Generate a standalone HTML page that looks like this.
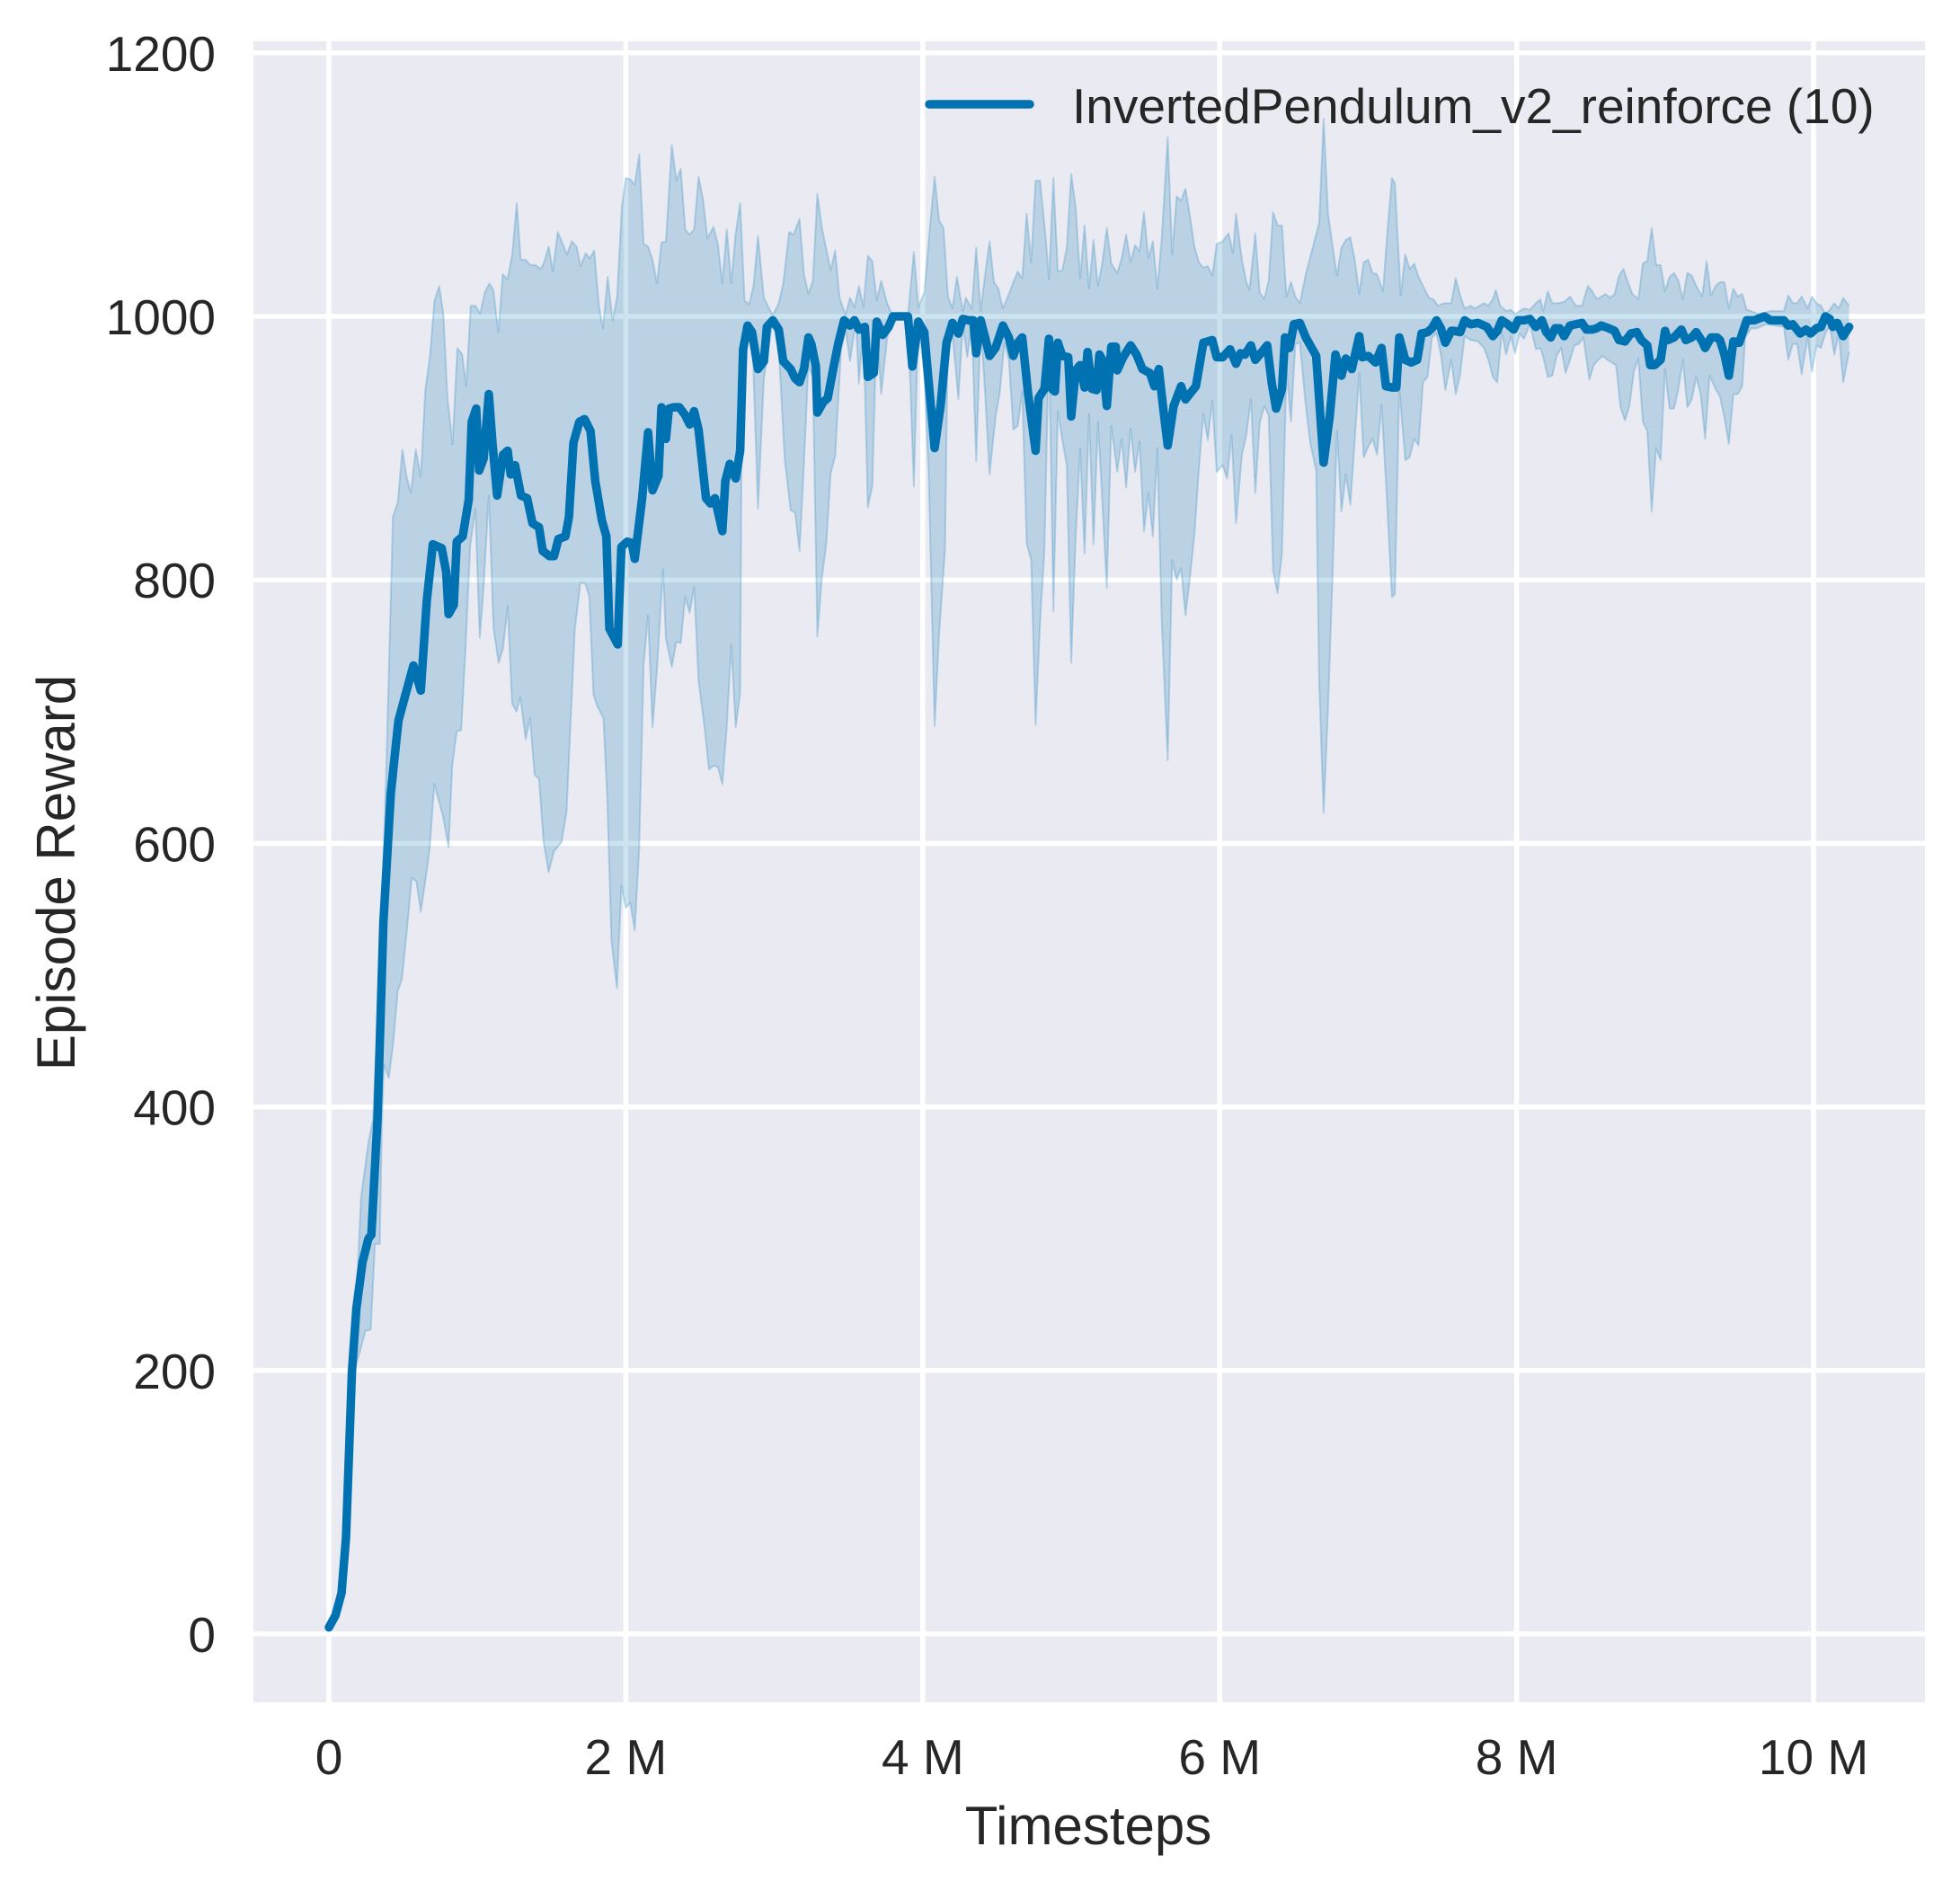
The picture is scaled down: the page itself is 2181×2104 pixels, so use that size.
<!DOCTYPE html>
<html>
<head>
<meta charset="utf-8">
<style>
html,body{margin:0;padding:0;background:#ffffff;}
svg{display:block;}
text{font-family:"Liberation Sans", Arial, sans-serif;fill:#262626;}
</style>
</head>
<body>
<svg xmlns="http://www.w3.org/2000/svg" width="2181" height="2104" viewBox="0 0 2181 2104">
<rect x="0" y="0" width="2181" height="2104" fill="#ffffff"/>
<rect x="282" y="46" width="1860" height="1848" fill="#EAEAF2"/>

<!-- grid -->
<g stroke="#ffffff" stroke-width="5.5" fill="none">
  <line x1="282" y1="1818" x2="2142" y2="1818"/>
  <line x1="282" y1="1524.8" x2="2142" y2="1524.8"/>
  <line x1="282" y1="1231.6" x2="2142" y2="1231.6"/>
  <line x1="282" y1="938.4" x2="2142" y2="938.4"/>
  <line x1="282" y1="645.2" x2="2142" y2="645.2"/>
  <line x1="282" y1="352" x2="2142" y2="352"/>
  <line x1="282" y1="58.8" x2="2142" y2="58.8"/>
  <line x1="366" y1="46" x2="366" y2="1894"/>
  <line x1="696.4" y1="46" x2="696.4" y2="1894"/>
  <line x1="1026.8" y1="46" x2="1026.8" y2="1894"/>
  <line x1="1357.2" y1="46" x2="1357.2" y2="1894"/>
  <line x1="1687.6" y1="46" x2="1687.6" y2="1894"/>
  <line x1="2018" y1="46" x2="2018" y2="1894"/>
</g>

<defs>
<clipPath id="plotclip"><rect x="282" y="46" width="1860" height="1848"/></clipPath>
<clipPath id="abovelower" clipPathUnits="userSpaceOnUse">
<path d="M0,2000 L0,3 0.044,10 0.085,24 0.115,59 0.145,129 0.175,202 0.206,213 0.246,230 0.282,231 0.31,296 0.343,296 0.357,387 0.371,432 0.403,422 0.431,446 0.464,488 0.492,497 0.528,537 0.558,574 0.589,571 0.619,548 0.649,571 0.679,596 0.71,645 0.77,620 0.806,597 0.831,659 0.861,685 0.891,686 0.921,749 0.952,826 0.986,854 1.016,756 1.042,794 1.077,864 1.109,763 1.143,737 1.173,748 1.204,780 1.234,706 1.264,700 1.29,711 1.325,679 1.355,695 1.385,652 1.415,649 1.446,601 1.48,578 1.516,594 1.567,601 1.601,624 1.627,690 1.657,763 1.694,798 1.728,797 1.754,787 1.782,713 1.808,704 1.849,695 1.875,634 1.903,526 1.94,490 1.97,568 2,551 2.03,555 2.06,534 2.09,596 2.12,736 2.15,773 2.18,688 2.21,732 2.25,808 2.27,755 2.31,734 2.34,753 2.37,752 2.4,787 2.43,775 2.46,795 2.49,723 2.53,688 2.56,656 2.59,659 2.62,658 2.65,645 2.68,688 2.71,751 2.74,688 2.77,714 2.78,897 2.82,986 2.85,992 2.89,854 2.93,953 2.99,997 3.03,975 3.07,892 3.11,853 3.14,851 3.17,822 3.2,888 3.23,963 3.26,953 3.29,757 3.32,801 3.35,827 3.38,881 3.41,894 3.45,975 3.48,990 3.51,966 3.55,997 3.57,949 3.6,994 3.63,855 3.66,871 3.69,992 3.72,941 3.76,983 3.8,1000 3.9,1000 3.94,871 3.97,997 4.01,955 4.04,880 4.08,689 4.11,758 4.15,823 4.17,989 4.2,987 4.24,937 4.27,994 4.3,969 4.33,995 4.36,890 4.39,995 4.42,941 4.45,880 4.49,923 4.52,943 4.55,980 4.58,967 4.61,914 4.64,917 4.67,943 4.7,828 4.73,815 4.76,690 4.79,767 4.82,823 4.85,980 4.88,776 4.91,928 4.94,906 4.97,887 5,737 5.03,832 5.06,900 5.09,820 5.12,926 5.15,827 5.18,920 5.21,858 5.24,794 5.27,917 5.31,882 5.34,907 5.37,870 5.4,915 5.43,882 5.46,905 5.49,837 5.52,866 5.55,833 5.58,900 5.61,767 5.65,663 5.68,815 5.71,800 5.74,809 5.77,773 5.8,802 5.83,834 5.86,884 5.89,926 5.92,906 5.95,936 5.98,882 6.02,887 6.05,877 6.08,910 6.11,843 6.15,895 6.18,910 6.21,937 6.24,866 6.27,919 6.3,932 6.33,925 6.36,807 6.39,790 6.42,821 6.45,960 6.48,920 6.51,979 6.54,980 6.58,932 6.61,904 6.65,883 6.67,723 6.7,623 6.73,702 6.76,802 6.79,913 6.82,852 6.85,880 6.88,857 6.91,906 6.94,957 6.97,893 7,901 7.03,907 7.06,895 7.09,933 7.13,854 7.16,787 7.18,789 7.21,945 7.25,891 7.28,893 7.31,907 7.34,902 7.37,950 7.4,954 7.43,984 7.46,987 7.49,971 7.52,944 7.56,967 7.59,941 7.62,956 7.65,985 7.69,982 7.74,981 7.78,976 7.81,967 7.84,954 7.87,950 7.9,988 7.93,971 7.96,985 7.99,972 8.02,987 8.05,983 8.09,994 8.13,975 8.16,976 8.18,969 8.21,954 8.24,955 8.27,970 8.3,976 8.33,957 8.36,967 8.39,978 8.42,979 8.45,984 8.49,952 8.52,963 8.55,967 8.58,970 8.61,967 8.67,963 8.7,931 8.73,921 8.76,932 8.79,958 8.82,968 8.85,920 8.88,913 8.91,852 8.94,900 8.97,891 9,960 9.03,930 9.06,930 9.09,945 9.12,967 9.15,931 9.18,937 9.21,954 9.24,941 9.27,907 9.3,955 9.34,945 9.37,939 9.4,923 9.43,903 9.46,941 9.49,941 9.52,947 9.54,984 9.58,991 9.62,991 9.68,994 9.74,993 9.8,992 9.83,967 9.86,979 9.89,979 9.92,956 9.96,984 9.99,958 10.02,978 10.05,976 10.08,987 10.11,993 10.14,971 10.17,987 10.2,950 10.24,973 L10.24,2000 Z"/>
</clipPath>
</defs>

<g clip-path="url(#plotclip)">
<g transform="matrix(165.2 0 0 -1.466 366 1818)">
  <path clip-path="url(#abovelower)" fill="#0072B2" fill-opacity="0.2" stroke="none"
  d="M0,-100 L0,5 0.044,21 0.085,45 0.125,108 0.165,206 0.216,331 0.266,373 0.296,390 0.327,463 0.357,554 0.387,659 0.431,848 0.464,859 0.495,899 0.524,878 0.552,866 0.585,899 0.619,878 0.649,944 0.681,970 0.711,1012 0.743,1023 0.771,1002 0.798,939 0.833,903 0.865,976 0.898,971 0.925,947 0.955,1008 0.987,1008 1.019,1002 1.049,1018 1.081,1025 1.108,1020 1.141,988 1.171,1032 1.203,1028 1.235,1047 1.265,1086 1.292,1043 1.325,1043 1.357,1039 1.392,1039 1.424,1036 1.446,1040 1.481,1053 1.508,1034 1.541,1064 1.568,1057 1.603,1047 1.636,1057 1.668,1053 1.695,1038 1.73,1048 1.757,1044 1.787,1050 1.819,1008 1.846,991 1.878,1030 1.911,997 1.941,1015 1.973,1083 2,1105 2.03,1104 2.06,1100 2.09,1123 2.12,1055 2.15,1053 2.18,1043 2.21,1025 2.24,1056 2.27,1057 2.31,1130 2.34,1103 2.37,1112 2.4,1066 2.43,1062 2.46,1066 2.49,1106 2.52,1089 2.55,1059 2.59,1068 2.62,1055 2.65,1025 2.68,1066 2.71,1025 2.74,1063 2.77,1086 2.8,1012 2.83,1009 2.86,1023 2.89,1061 2.93,1014 2.96,1007 2.99,1001 3.03,1010 3.06,1025 3.1,1064 3.13,1062 3.17,1074 3.2,1032 3.23,1017 3.26,1027 3.29,1093 3.32,1068 3.35,1051 3.38,1035 3.41,1050 3.44,1014 3.48,1001 3.51,1014 3.54,1007 3.57,1023 3.6,1007 3.63,1046 3.66,1042 3.69,1012 3.72,1027 3.76,1010 3.8,1000 3.9,1000 3.94,1049 3.97,1007 4.01,1018 4.05,1070 4.08,1106 4.11,1073 4.14,1067 4.17,1015 4.2,1006 4.23,1030 4.27,1004 4.29,1014 4.33,1006 4.36,1052 4.39,1004 4.42,1032 4.45,1057 4.48,1026 4.51,1021 4.54,1006 4.58,1017 4.61,1026 4.64,1034 4.67,1029 4.7,1078 4.73,1041 4.76,1103 4.79,1103 4.83,1058 4.85,1028 4.88,1105 4.91,1034 4.94,1035 4.97,1052 5,1108 5.03,1083 5.06,1029 5.09,1069 5.12,1021 5.15,1058 5.18,1023 5.21,1041 5.24,1067 5.27,1040 5.31,1033 5.34,1044 5.37,1062 5.4,1041 5.43,1054 5.46,1049 5.49,1079 5.52,1044 5.55,1057 5.58,1021 5.61,1060 5.65,1136 5.68,1047 5.71,1091 5.74,1088 5.77,1097 5.8,1076 5.83,1053 5.86,1041 5.89,1037 5.92,1038 5.95,1031 5.98,1055 6.02,1057 6.06,1063 6.09,1048 6.11,1078 6.15,1043 6.18,1026 6.2,1020 6.24,1063 6.27,1018 6.3,1013 6.33,1027 6.36,1079 6.39,1069 6.42,1069 6.45,1015 6.48,1026 6.51,1015 6.54,1010 6.58,1032 6.61,1045 6.67,1071 6.7,1150 6.73,1078 6.76,1054 6.79,1031 6.82,1052 6.85,1058 6.88,1060 6.91,1043 6.94,1017 6.97,1041 7,1043 7.03,1033 7.06,1032 7.1,1019 7.13,1065 7.16,1105 7.18,1101 7.22,1016 7.25,1047 7.28,1036 7.31,1040 7.34,1030 7.37,1023 7.41,1014 7.44,1013 7.47,1008 7.51,1010 7.56,1010 7.59,1029 7.62,1016 7.65,1006 7.69,1008 7.72,1006 7.75,1008 7.78,1010 7.81,1008 7.84,1013 7.86,1020 7.89,1008 7.93,1004 7.96,1005 7.99,1002 8.02,1004 8.05,1006 8.09,1005 8.13,1010 8.16,1013 8.18,1004 8.21,1019 8.24,1010 8.28,1010 8.32,1011 8.36,1015 8.4,1008 8.44,1008 8.48,1023 8.51,1019 8.54,1013 8.57,1015 8.6,1017 8.63,1014 8.66,1017 8.69,1031 8.72,1036 8.75,1026 8.78,1017 8.82,1013 8.85,1040 8.88,1042 8.91,1067 8.94,1039 8.97,1039 9,1019 9.03,1030 9.06,1033 9.09,1027 9.12,1013 9.15,1033 9.18,1031 9.21,1023 9.25,1015 9.28,1042 9.31,1016 9.34,1023 9.37,1026 9.4,1026 9.43,1006 9.46,1021 9.49,1015 9.52,1017 9.55,1005 9.58,1004 9.62,1002 9.66,1002 9.7,1004 9.75,1004 9.8,1004 9.83,1016 9.86,1010 9.89,1010 9.92,1015 9.96,1006 9.99,1015 10.02,1010 10.05,1008 10.08,1002 10.11,1005 10.14,1010 10.17,1006 10.2,1014 10.24,1008 L10.24,-100 Z"/>

  <path fill="none" stroke="#0072B2" stroke-opacity="0.22" stroke-width="2" vector-effect="non-scaling-stroke" stroke-linejoin="round"
  d="M0,5 L0.044,21 0.085,45 0.125,108 0.165,206 0.216,331 0.266,373 0.296,390 0.327,463 0.357,554 0.387,659 0.431,848 0.464,859 0.495,899 0.524,878 0.552,866 0.585,899 0.619,878 0.649,944 0.681,970 0.711,1012 0.743,1023 0.771,1002 0.798,939 0.833,903 0.865,976 0.898,971 0.925,947 0.955,1008 0.987,1008 1.019,1002 1.049,1018 1.081,1025 1.108,1020 1.141,988 1.171,1032 1.203,1028 1.235,1047 1.265,1086 1.292,1043 1.325,1043 1.357,1039 1.392,1039 1.424,1036 1.446,1040 1.481,1053 1.508,1034 1.541,1064 1.568,1057 1.603,1047 1.636,1057 1.668,1053 1.695,1038 1.73,1048 1.757,1044 1.787,1050 1.819,1008 1.846,991 1.878,1030 1.911,997 1.941,1015 1.973,1083 2,1105 2.03,1104 2.06,1100 2.09,1123 2.12,1055 2.15,1053 2.18,1043 2.21,1025 2.24,1056 2.27,1057 2.31,1130 2.34,1103 2.37,1112 2.4,1066 2.43,1062 2.46,1066 2.49,1106 2.52,1089 2.55,1059 2.59,1068 2.62,1055 2.65,1025 2.68,1066 2.71,1025 2.74,1063 2.77,1086 2.8,1012 2.83,1009 2.86,1023 2.89,1061 2.93,1014 2.96,1007 2.99,1001 3.03,1010 3.06,1025 3.1,1064 3.13,1062 3.17,1074 3.2,1032 3.23,1017 3.26,1027 3.29,1093 3.32,1068 3.35,1051 3.38,1035 3.41,1050 3.44,1014 3.48,1001 3.51,1014 3.54,1007 3.57,1023 3.6,1007 3.63,1046 3.66,1042 3.69,1012 3.72,1027 3.76,1010 3.8,1000 3.9,1000 3.94,1049 3.97,1007 4.01,1018 4.05,1070 4.08,1106 4.11,1073 4.14,1067 4.17,1015 4.2,1006 4.23,1030 4.27,1004 4.29,1014 4.33,1006 4.36,1052 4.39,1004 4.42,1032 4.45,1057 4.48,1026 4.51,1021 4.54,1006 4.58,1017 4.61,1026 4.64,1034 4.67,1029 4.7,1078 4.73,1041 4.76,1103 4.79,1103 4.83,1058 4.85,1028 4.88,1105 4.91,1034 4.94,1035 4.97,1052 5,1108 5.03,1083 5.06,1029 5.09,1069 5.12,1021 5.15,1058 5.18,1023 5.21,1041 5.24,1067 5.27,1040 5.31,1033 5.34,1044 5.37,1062 5.4,1041 5.43,1054 5.46,1049 5.49,1079 5.52,1044 5.55,1057 5.58,1021 5.61,1060 5.65,1136 5.68,1047 5.71,1091 5.74,1088 5.77,1097 5.8,1076 5.83,1053 5.86,1041 5.89,1037 5.92,1038 5.95,1031 5.98,1055 6.02,1057 6.06,1063 6.09,1048 6.11,1078 6.15,1043 6.18,1026 6.2,1020 6.24,1063 6.27,1018 6.3,1013 6.33,1027 6.36,1079 6.39,1069 6.42,1069 6.45,1015 6.48,1026 6.51,1015 6.54,1010 6.58,1032 6.61,1045 6.67,1071 6.7,1150 6.73,1078 6.76,1054 6.79,1031 6.82,1052 6.85,1058 6.88,1060 6.91,1043 6.94,1017 6.97,1041 7,1043 7.03,1033 7.06,1032 7.1,1019 7.13,1065 7.16,1105 7.18,1101 7.22,1016 7.25,1047 7.28,1036 7.31,1040 7.34,1030 7.37,1023 7.41,1014 7.44,1013 7.47,1008 7.51,1010 7.56,1010 7.59,1029 7.62,1016 7.65,1006 7.69,1008 7.72,1006 7.75,1008 7.78,1010 7.81,1008 7.84,1013 7.86,1020 7.89,1008 7.93,1004 7.96,1005 7.99,1002 8.02,1004 8.05,1006 8.09,1005 8.13,1010 8.16,1013 8.18,1004 8.21,1019 8.24,1010 8.28,1010 8.32,1011 8.36,1015 8.4,1008 8.44,1008 8.48,1023 8.51,1019 8.54,1013 8.57,1015 8.6,1017 8.63,1014 8.66,1017 8.69,1031 8.72,1036 8.75,1026 8.78,1017 8.82,1013 8.85,1040 8.88,1042 8.91,1067 8.94,1039 8.97,1039 9,1019 9.03,1030 9.06,1033 9.09,1027 9.12,1013 9.15,1033 9.18,1031 9.21,1023 9.25,1015 9.28,1042 9.31,1016 9.34,1023 9.37,1026 9.4,1026 9.43,1006 9.46,1021 9.49,1015 9.52,1017 9.55,1005 9.58,1004 9.62,1002 9.66,1002 9.7,1004 9.75,1004 9.8,1004 9.83,1016 9.86,1010 9.89,1010 9.92,1015 9.96,1006 9.99,1015 10.02,1010 10.05,1008 10.08,1002 10.11,1005 10.14,1010 10.17,1006 10.2,1014 10.24,1008"/>
  <path fill="none" stroke="#0072B2" stroke-opacity="0.22" stroke-width="2" vector-effect="non-scaling-stroke" stroke-linejoin="round"
  d="M0,3 L0.044,10 0.085,24 0.115,59 0.145,129 0.175,202 0.206,213 0.246,230 0.282,231 0.31,296 0.343,296 0.357,387 0.371,432 0.403,422 0.431,446 0.464,488 0.492,497 0.528,537 0.558,574 0.589,571 0.619,548 0.649,571 0.679,596 0.71,645 0.77,620 0.806,597 0.831,659 0.861,685 0.891,686 0.921,749 0.952,826 0.986,854 1.016,756 1.042,794 1.077,864 1.109,763 1.143,737 1.173,748 1.204,780 1.234,706 1.264,700 1.29,711 1.325,679 1.355,695 1.385,652 1.415,649 1.446,601 1.48,578 1.516,594 1.567,601 1.601,624 1.627,690 1.657,763 1.694,798 1.728,797 1.754,787 1.782,713 1.808,704 1.849,695 1.875,634 1.903,526 1.94,490 1.97,568 2,551 2.03,555 2.06,534 2.09,596 2.12,736 2.15,773 2.18,688 2.21,732 2.25,808 2.27,755 2.31,734 2.34,753 2.37,752 2.4,787 2.43,775 2.46,795 2.49,723 2.53,688 2.56,656 2.59,659 2.62,658 2.65,645 2.68,688 2.71,751 2.74,688 2.77,714 2.78,897 2.82,986 2.85,992 2.89,854 2.93,953 2.99,997 3.03,975 3.07,892 3.11,853 3.14,851 3.17,822 3.2,888 3.23,963 3.26,953 3.29,757 3.32,801 3.35,827 3.38,881 3.41,894 3.45,975 3.48,990 3.51,966 3.55,997 3.57,949 3.6,994 3.63,855 3.66,871 3.69,992 3.72,941 3.76,983 3.8,1000 3.9,1000 3.94,871 3.97,997 4.01,955 4.04,880 4.08,689 4.11,758 4.15,823 4.17,989 4.2,987 4.24,937 4.27,994 4.3,969 4.33,995 4.36,890 4.39,995 4.42,941 4.45,880 4.49,923 4.52,943 4.55,980 4.58,967 4.61,914 4.64,917 4.67,943 4.7,828 4.73,815 4.76,690 4.79,767 4.82,823 4.85,980 4.88,776 4.91,928 4.94,906 4.97,887 5,737 5.03,832 5.06,900 5.09,820 5.12,926 5.15,827 5.18,920 5.21,858 5.24,794 5.27,917 5.31,882 5.34,907 5.37,870 5.4,915 5.43,882 5.46,905 5.49,837 5.52,866 5.55,833 5.58,900 5.61,767 5.65,663 5.68,815 5.71,800 5.74,809 5.77,773 5.8,802 5.83,834 5.86,884 5.89,926 5.92,906 5.95,936 5.98,882 6.02,887 6.05,877 6.08,910 6.11,843 6.15,895 6.18,910 6.21,937 6.24,866 6.27,919 6.3,932 6.33,925 6.36,807 6.39,790 6.42,821 6.45,960 6.48,920 6.51,979 6.54,980 6.58,932 6.61,904 6.65,883 6.67,723 6.7,623 6.73,702 6.76,802 6.79,913 6.82,852 6.85,880 6.88,857 6.91,906 6.94,957 6.97,893 7,901 7.03,907 7.06,895 7.09,933 7.13,854 7.16,787 7.18,789 7.21,945 7.25,891 7.28,893 7.31,907 7.34,902 7.37,950 7.4,954 7.43,984 7.46,987 7.49,971 7.52,944 7.56,967 7.59,941 7.62,956 7.65,985 7.69,982 7.74,981 7.78,976 7.81,967 7.84,954 7.87,950 7.9,988 7.93,971 7.96,985 7.99,972 8.02,987 8.05,983 8.09,994 8.13,975 8.16,976 8.18,969 8.21,954 8.24,955 8.27,970 8.3,976 8.33,957 8.36,967 8.39,978 8.42,979 8.45,984 8.49,952 8.52,963 8.55,967 8.58,970 8.61,967 8.67,963 8.7,931 8.73,921 8.76,932 8.79,958 8.82,968 8.85,920 8.88,913 8.91,852 8.94,900 8.97,891 9,960 9.03,930 9.06,930 9.09,945 9.12,967 9.15,931 9.18,937 9.21,954 9.24,941 9.27,907 9.3,955 9.34,945 9.37,939 9.4,923 9.43,903 9.46,941 9.49,941 9.52,947 9.54,984 9.58,991 9.62,991 9.68,994 9.74,993 9.8,992 9.83,967 9.86,979 9.89,979 9.92,956 9.96,984 9.99,958 10.02,978 10.05,976 10.08,987 10.11,993 10.14,971 10.17,987 10.2,950 10.24,973"/>

  <path fill="none" stroke="#0072B2" stroke-width="9.5" vector-effect="non-scaling-stroke" stroke-linejoin="round" stroke-linecap="round"
  d="M0,5 L0.044,14 0.085,31 0.115,73 0.135,136 0.155,199 0.185,247 0.226,282 0.266,300 0.286,303 0.327,390 0.367,540 0.417,638 0.468,693 0.528,718 0.569,735 0.619,716 0.659,784 0.7,827 0.76,824 0.79,806 0.806,774 0.841,781 0.861,829 0.901,833 0.942,861 0.962,920 0.992,930 1.012,883 1.042,892 1.077,941 1.103,902 1.133,864 1.173,895 1.204,898 1.224,880 1.254,887 1.294,864 1.335,862 1.371,843 1.415,840 1.44,822 1.486,818 1.516,818 1.546,831 1.593,833 1.617,848 1.647,904 1.687,920 1.722,922 1.762,913 1.794,875 1.839,845 1.869,833 1.889,763 1.945,751 1.97,825 2.01,829 2.04,828 2.06,816 2.11,862 2.15,912 2.18,868 2.22,879 2.24,931 2.27,907 2.29,930 2.32,931 2.36,931 2.4,925 2.43,918 2.46,928 2.49,914 2.54,862 2.57,858 2.6,862 2.65,837 2.67,875 2.7,888 2.74,877 2.77,898 2.79,975 2.82,993 2.85,988 2.89,960 2.93,966 2.95,992 2.99,997 3.03,990 3.06,966 3.11,960 3.14,953 3.17,950 3.2,960 3.23,984 3.25,979 3.28,962 3.29,927 3.33,935 3.36,938 3.4,962 3.43,979 3.47,997 3.51,993 3.54,997 3.57,990 3.61,992 3.63,954 3.67,957 3.69,996 3.73,986 3.77,992 3.8,1000 3.9,1000 3.93,962 3.97,996 4.01,988 4.04,950 4.08,900 4.12,932 4.16,980 4.2,995 4.24,987 4.27,998 4.31,997 4.34,997 4.36,972 4.39,997 4.42,984 4.45,970 4.49,976 4.54,993 4.58,984 4.61,970 4.64,980 4.67,984 4.71,941 4.76,898 4.78,938 4.82,945 4.85,983 4.87,945 4.89,943 4.91,980 4.94,970 4.98,969 5,924 5.03,959 5.06,963 5.09,946 5.11,973 5.14,945 5.17,944 5.19,971 5.21,967 5.24,932 5.27,977 5.3,977 5.31,959 5.35,969 5.4,978 5.44,971 5.48,960 5.53,957 5.56,947 5.59,960 5.62,930 5.65,902 5.69,932 5.74,947 5.77,937 5.84,947 5.89,980 5.95,982 5.98,969 6.02,969 6.07,975 6.11,964 6.14,972 6.17,971 6.21,978 6.24,967 6.27,971 6.32,978 6.35,950 6.38,930 6.42,945 6.44,984 6.47,976 6.5,994 6.54,995 6.58,984 6.65,970 6.7,889 6.74,923 6.78,971 6.82,955 6.85,968 6.89,960 6.94,985 6.96,969 7,970 7.05,965 7.09,976 7.12,947 7.16,946 7.19,946 7.21,984 7.25,967 7.29,965 7.33,967 7.36,987 7.4,988 7.43,991 7.46,997 7.49,991 7.52,980 7.56,989 7.58,989 7.62,988 7.65,997 7.69,994 7.74,995 7.8,992 7.84,985 7.87,989 7.9,997 7.94,994 7.98,990 8.01,997 8.05,997 8.09,998 8.13,992 8.17,997 8.2,988 8.23,984 8.26,991 8.29,991 8.32,985 8.36,993 8.4,994 8.44,995 8.47,990 8.51,990 8.54,991 8.57,993 8.62,991 8.66,989 8.69,982 8.73,981 8.77,987 8.81,988 8.84,982 8.88,978 8.9,963 8.93,963 8.97,967 9,989 9.02,982 9.06,984 9.11,990 9.14,982 9.18,984 9.21,988 9.25,981 9.27,976 9.31,984 9.35,984 9.37,982 9.4,971 9.43,955 9.46,981 9.5,980 9.52,987 9.55,997 9.6,997 9.67,1000 9.71,997 9.75,997 9.8,997 9.83,993 9.86,994 9.91,987 9.95,990 9.98,987 10.02,991 10.05,992 10.08,1000 10.11,998 10.13,992 10.16,995 10.2,985 10.24,992"/>
</g>
</g>

<!-- legend -->
<line x1="1034" y1="116" x2="1146" y2="116" stroke="#0072B2" stroke-width="9.5" stroke-linecap="round"/>
<text x="1193" y="137" font-size="55">InvertedPendulum_v2_reinforce (10)</text>

<!-- y tick labels -->
<g font-size="55" text-anchor="end">
  <text x="240" y="1838">0</text>
  <text x="240" y="1544.8">200</text>
  <text x="240" y="1251.6">400</text>
  <text x="240" y="958.4">600</text>
  <text x="240" y="665.2">800</text>
  <text x="240" y="372">1000</text>
  <text x="240" y="78.8">1200</text>
</g>

<!-- x tick labels -->
<g font-size="55" text-anchor="middle">
  <text x="366" y="1974">0</text>
  <text x="696.4" y="1974">2 M</text>
  <text x="1026.8" y="1974">4 M</text>
  <text x="1357.2" y="1974">6 M</text>
  <text x="1687.6" y="1974">8 M</text>
  <text x="2018" y="1974">10 M</text>
</g>

<!-- axis labels -->
<text x="1211" y="2052" font-size="60" text-anchor="middle">Timesteps</text>
<text transform="translate(83,971) rotate(-90)" font-size="60" text-anchor="middle">Episode Reward</text>
</svg>
</body>
</html>
